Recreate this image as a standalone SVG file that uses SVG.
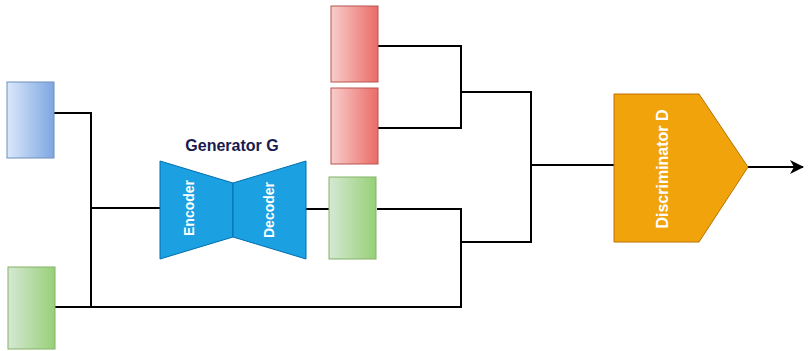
<svg xmlns="http://www.w3.org/2000/svg" width="810" height="351" viewBox="0 0 810 351">
<defs>
<linearGradient id="gBlue" x1="0" y1="0" x2="1" y2="0"><stop offset="0" stop-color="#dae8fc"/><stop offset="1" stop-color="#7ea6e0"/></linearGradient>
<linearGradient id="gGreen" x1="0" y1="0" x2="1" y2="0"><stop offset="0" stop-color="#d5e8d4"/><stop offset="1" stop-color="#97d077"/></linearGradient>
<linearGradient id="gRed" x1="0" y1="0" x2="1" y2="0"><stop offset="0" stop-color="#f8cecc"/><stop offset="1" stop-color="#ea6b66"/></linearGradient>
<marker id="arr" viewBox="0 0 14 14" refX="13" refY="7" markerWidth="14" markerHeight="14" markerUnits="userSpaceOnUse" orient="auto"><path d="M0,0 L14,7 L0,14 L4,7 Z" fill="#000"/></marker>
</defs>
<style>
.blue{fill:url(#gBlue);stroke:#6c8ebf;stroke-width:1}
.green{fill:url(#gGreen);stroke:#82b366;stroke-width:1}
.red{fill:url(#gRed);stroke:#b85450;stroke-width:1}
.gen{fill:#1ba1e2;stroke:#006eaf;stroke-width:1}
.disc{fill:#f0a30a;stroke:#bd7000;stroke-width:1}
.wire{fill:none;stroke:#000;stroke-width:2}
.wt{font-family:"Liberation Sans",Arial,sans-serif;font-weight:bold;fill:#fff;text-anchor:middle;dominant-baseline:central}
</style>
<g id="connectors">
<polyline class="wire" points="54,113 91,113 91,307"/>
<polyline class="wire" points="55,307 461,307 461,209 377,209"/>
<line class="wire" x1="91" y1="208" x2="160" y2="208"/>
<line class="wire" x1="306" y1="209" x2="329" y2="209"/>
<polyline class="wire" points="378,46 461,46 461,128 378,128"/>
<polyline class="wire" points="461,92 531,92 531,242 461,242"/>
<line class="wire" x1="531" y1="165" x2="614" y2="165"/>
<line class="wire" x1="748" y1="167" x2="803" y2="167" marker-end="url(#arr)"/>
</g>
<g id="inputBlue"><rect class="blue" x="7" y="82" width="47" height="76"/></g>
<g id="inputGreen"><rect class="green" x="8" y="267" width="47" height="82"/></g>
<g id="realTop"><rect class="red" x="331" y="6" width="47" height="76"/></g>
<g id="realBottom"><rect class="red" x="331" y="88" width="47" height="76"/></g>
<g id="genOutput"><rect class="green" x="329" y="177" width="47" height="82"/></g>
<g id="generator">
<text x="232" y="151" font-family="Liberation Sans,Arial,sans-serif" font-weight="bold" font-size="16" fill="#1a1a4e" text-anchor="middle">Generator G</text>
<g id="encoder">
<polygon class="gen" points="160,161 233,183 233,237 160,259"/>
<text class="wt" font-size="14" transform="translate(189,208) rotate(-90)">Encoder</text>
</g>
<g id="decoder">
<polygon class="gen" points="233,183 306,161 306,259 233,237"/>
<text class="wt" font-size="14" transform="translate(269,210) rotate(-90)">Decoder</text>
</g>
</g>
<g id="discriminator">
<polygon class="disc" points="614,94 699,94 748,167 699,242 614,242"/>
<text class="wt" font-size="16" transform="translate(662,169) rotate(-90)">Discriminator D</text>
</g>
</svg>
